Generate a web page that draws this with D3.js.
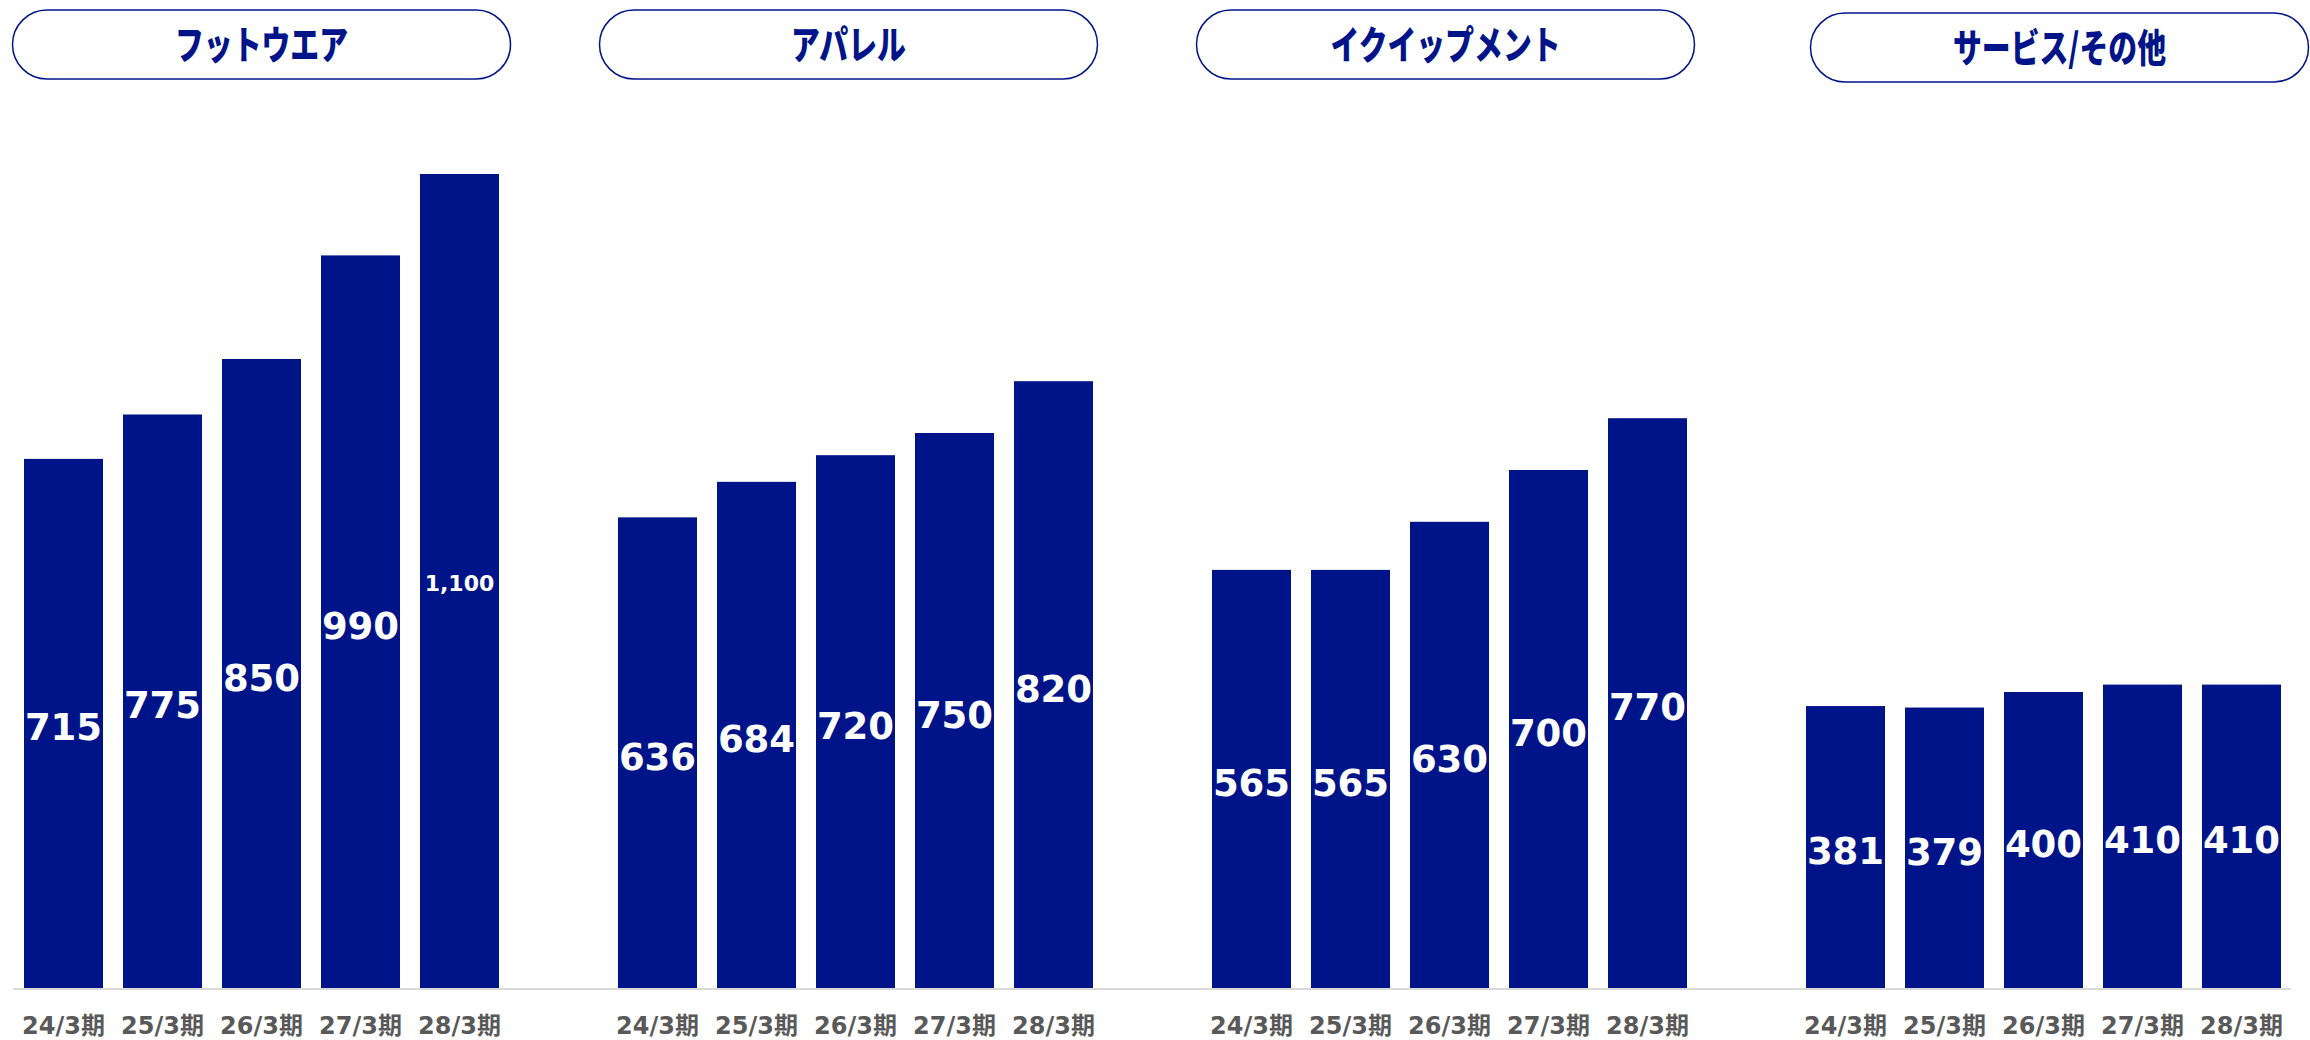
<!DOCTYPE html>
<html>
<head>
<meta charset="utf-8">
<script src="https://cdn.jsdelivr.net/npm/d3@7"></script>
<style>
  html, body { margin: 0; padding: 0; background: #ffffff; }
  svg { display: block; }
</style>
</head>
<body>
<div id="chart"></div>
<script>
// segments and fiscal periods
var segments = ['フットウエア', 'アパレル', 'イクイップメント', 'サービス/その他'];
var periods = ['24/3期', '25/3期', '26/3期', '27/3期', '28/3期'];

// values per segment (億円)
var footwear = [715, 775, 850, 990, 1100];
var apparel = [636, 684, 720, 750, 820];
var equipment = [565, 565, 630, 700, 770];
var services = [381, 379, 400, 410, 410];

var series = [footwear, apparel, equipment, services];

var width = 2310, height = 1040;
var navy = '#001489';
var baseY = 988;

var svg = d3.select('#chart').append('svg')
    .attr('width', width)
    .attr('height', height);

// one band per segment, then bars inside each band
var outer = d3.scaleBand()
    .domain(segments)
    .range([14, 2291])
    .paddingInner(99 / 594)
    .paddingOuter(0);

var y = d3.scaleLinear()
    .domain([0, 1100])
    .range([baseY, 174]);

var fmt = d3.format(',');

// baseline
svg.append('line')
    .attr('x1', outer.range()[0] - 1)
    .attr('x2', outer.range()[1])
    .attr('y1', baseY + 1)
    .attr('y2', baseY + 1)
    .style('stroke', '#d9d9d9')
    .style('stroke-width', 2);

// small nudges so the pills sit where the slide put them
var pillShift = [0, -7, -4, 16];
var pillDrop = [0, 0, 0, 3];

segments.forEach(function(seg, i) {
    var x0 = outer(seg);
    var inner = d3.scaleBand()
        .domain(periods)
        .range([x0, x0 + outer.bandwidth()])
        .paddingInner(20 / 99)
        .paddingOuter(10 / 99);

    var g = svg.append('g').attr('class', 'segment');

    // header pill
    var cx = x0 + outer.bandwidth() / 2 + pillShift[i];
    var pw = 498, ph = 69, py = 10 + pillDrop[i];
    g.append('rect')
        .attr('x', cx - pw / 2)
        .attr('y', py)
        .attr('width', pw)
        .attr('height', ph)
        .attr('rx', ph / 2)
        .attr('ry', ph / 2)
        .style('fill', '#ffffff')
        .style('stroke', navy)
        .style('stroke-width', 1.5);

    g.append('text')
        .attr('transform', 'translate(' + cx + ',' + (py + ph / 2 + 14) + ') scale(0.74,1)')
        .attr('text-anchor', 'middle')
        .style('font-family', '"Noto Sans CJK JP", sans-serif')
        .style('font-weight', 900)
        .style('font-size', '39px')
        .style('fill', navy)
        .text(seg);

    var data = series[i].map(function(v, j) { return {period: periods[j], value: v}; });

    g.selectAll('rect.bar')
        .data(data)
        .enter().append('rect')
        .attr('class', 'bar')
        .attr('x', function(d) { return inner(d.period); })
        .attr('y', function(d) { return y(d.value); })
        .attr('width', inner.bandwidth())
        .attr('height', function(d) { return y(0) - y(d.value); })
        .style('fill', navy);

    // value labels, centred in the bar
    g.selectAll('text.val')
        .data(data)
        .enter().append('text')
        .attr('class', 'val')
        .attr('x', function(d) { return inner(d.period) + inner.bandwidth() / 2; })
        .attr('y', function(d) { return (y(d.value) + y(0)) / 2; })
        .attr('dy', '0.46em')
        .attr('text-anchor', 'middle')
        .style('font-family', '"DejaVu Sans", Verdana, sans-serif')
        .style('font-weight', 700)
        .style('font-size', function(d) { return fmt(d.value).length > 3 ? '22px' : '37px'; })
        .style('fill', '#ffffff')
        .text(function(d) { return fmt(d.value); });

    // period labels under the baseline
    g.selectAll('text.cat')
        .data(periods)
        .enter().append('text')
        .attr('class', 'cat')
        .attr('x', function(d) { return inner(d) + inner.bandwidth() / 2; })
        .attr('y', 1034)
        .attr('text-anchor', 'middle')
        .style('font-family', '"DejaVu Sans", "Noto Sans CJK JP", sans-serif')
        .style('font-weight', 700)
        .style('font-size', '24px')
        .style('fill', '#595959')
        .text(function(d) { return d; });
});
</script>
</body>
</html>
